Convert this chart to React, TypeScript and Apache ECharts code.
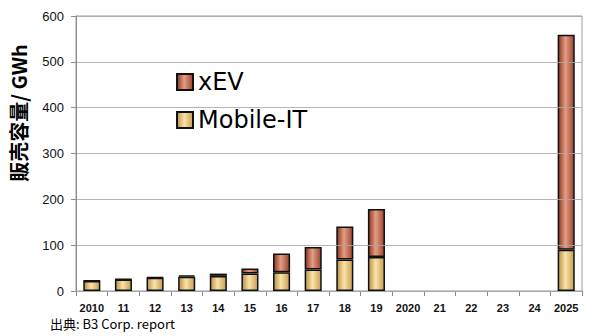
import React, { useEffect, useRef } from "react";
import * as echarts from "echarts";

const categories = ["2010", "11", "12", "13", "14", "15", "16", "17", "18", "19", "2020", "21", "22", "23", "24", "2025"];
const mobileIT = [22, 25, 29, 31, 33, 38, 41, 47, 69, 74, null, null, null, null, null, 90];
const xEV = [0.5, 1, 1, 3, 5, 11, 41, 49, 72, 105, null, null, null, null, null, 469];
const yTicks = { min: 0, max: 600, interval: 100 };
const yAxisTitle = "販売容量/ GWh";
const sourceNote = "出典: B3 Corp. report";

export default function App() {
  const ref = useRef<HTMLDivElement>(null);
  useEffect(() => {
    if (!ref.current) return;
    const chart = echarts.init(ref.current, null, { renderer: "svg" });
    const xevFill = new echarts.graphic.LinearGradient(0, 0, 1, 0, [
      { offset: 0, color: "#8a3622" },
      { offset: 0.45, color: "#e49e82" },
      { offset: 1, color: "#9a4430" },
    ]);
    const mobFill = new echarts.graphic.LinearGradient(0, 0, 1, 0, [
      { offset: 0, color: "#b89048" },
      { offset: 0.45, color: "#fbe3a6" },
      { offset: 1, color: "#c69e56" },
    ]);
    chart.setOption({
      animation: false,
      grid: {
        left: 76,
        right: 18,
        top: 16,
        bottom: 45,
        show: true,
        borderColor: "#9a9a9a",
        borderWidth: 1,
      },
      legend: {
        orient: "vertical",
        left: 176,
        top: 70,
        padding: 0,
        itemWidth: 16,
        itemHeight: 16,
        itemGap: 14,
        itemTextGap: 6,
        icon: "rect",
        data: ["xEV", "Mobile-IT"],
        textStyle: { fontSize: 24, fontFamily: "DejaVu Sans", color: "#000" },
      },
      xAxis: {
        type: "category",
        data: categories,
        axisLine: { lineStyle: { color: "#8a8a8a" } },
        axisTick: { show: true, length: 5, lineStyle: { color: "#8a8a8a" } },
        axisLabel: {
          fontSize: 11,
          fontWeight: "bold",
          fontFamily: "Liberation Sans",
          color: "#111",
          margin: 11,
          interval: 0,
        },
      },
      yAxis: {
        type: "value",
        min: yTicks.min,
        max: yTicks.max,
        interval: yTicks.interval,
        z: 3,
        axisLine: { show: true, lineStyle: { color: "#8a8a8a" } },
        axisTick: { show: true, length: 5, lineStyle: { color: "#8a8a8a" } },
        splitLine: { show: true, lineStyle: { color: "#a8a8a8", width: 1, opacity: 0.85 } },
        axisLabel: { fontSize: 13, fontFamily: "Liberation Sans", color: "#111", margin: 12 },
      },
      series: [
        {
          name: "Mobile-IT",
          type: "bar",
          stack: "total",
          data: mobileIT,
          barWidth: "54%",
          itemStyle: { color: mobFill, borderColor: "#111", borderWidth: 1.5 },
        },
        {
          name: "xEV",
          type: "bar",
          stack: "total",
          data: xEV,
          barWidth: "54%",
          itemStyle: { color: xevFill, borderColor: "#111", borderWidth: 1.5 },
        },
      ],
      graphic: [
        {
          type: "text",
          x: 18,
          y: 113,
          rotation: Math.PI / 2,
          style: {
            text: yAxisTitle,
            fontSize: 20,
            fontWeight: "bold",
            fontFamily: "Noto Sans CJK JP",
            fill: "#000",
            textAlign: "center",
            textVerticalAlign: "middle",
          },
        },
        {
          type: "text",
          left: 50,
          top: 317,
          style: {
            text: sourceNote,
            fontSize: 13,
            fontFamily: "Noto Sans CJK JP",
            fill: "#000",
          },
        },
      ],
    });
    return () => chart.dispose();
  }, []);
  return <div ref={ref} style={{ position: "fixed", left: 0, top: 0, width: 600, height: 336, background: "#fff" }} />;
}
